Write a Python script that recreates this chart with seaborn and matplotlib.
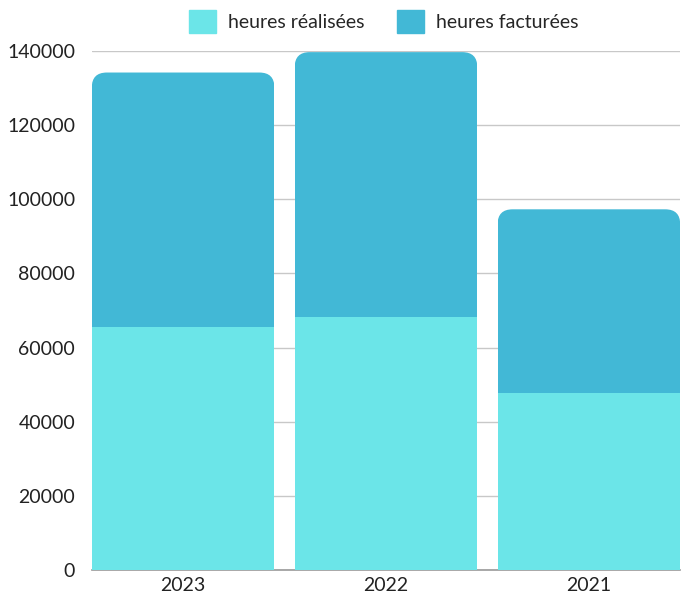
import pandas as pd
import matplotlib.pyplot as plt
import seaborn as sns
from matplotlib.patches import FancyBboxPatch, Rectangle

years = ["2023", "2022", "2021"]
heures_realisees = [65600, 68300, 47800]
heures_facturees = [68600, 71400, 49500]
labels = ["heures réalisées", "heures facturées"]
colors = ["#6be5e8", "#42b8d6"]

df = pd.DataFrame({"annee": years,
                   "realisees": heures_realisees,
                   "total": [r + f for r, f in zip(heures_realisees, heures_facturees)]})

sns.set_style("white")
plt.rcParams['font.family'] = ['Lato', 'DejaVu Sans']

fig = plt.figure(figsize=(6.85, 6.01), dpi=100)
ax = fig.add_axes([0.134, 0.0516, 0.859, 0.8635])

sns.barplot(data=df, x="annee", y="total", color=colors[1], width=0.9,
            saturation=1, linewidth=0, ax=ax, zorder=2)
n = len(ax.patches)
sns.barplot(data=df, x="annee", y="realisees", color=colors[0], width=0.9,
            saturation=1, linewidth=0, ax=ax, zorder=3)

ax.set_xlim(-0.45, len(years) - 0.55)
ax.set_ylim(0, 140000)

# rounded top corners for the total bars, clipped above the lower segment
px_x = 0.859 * 685 / (ax.get_xlim()[1] - ax.get_xlim()[0])
px_y = 0.8635 * 601 / 140000
radius = 15 / px_x
for p, low in zip(list(ax.patches[:n]), ax.patches[n:2 * n]):
    x, w, h = p.get_x(), p.get_width(), p.get_height()
    base = low.get_height()
    p.set_visible(False)
    rb = FancyBboxPatch((x, 0), w, h, boxstyle=f"round,pad=0,rounding_size={radius}",
                        mutation_aspect=px_x / px_y, facecolor=colors[1],
                        edgecolor="none", linewidth=0, zorder=2)
    ax.add_patch(rb)
    rb.set_clip_path(Rectangle((x, base), w, h, transform=ax.transData))

ax.set_yticks(range(0, 140001, 20000))
ax.yaxis.grid(True, color="#c8c8c8", linewidth=1, zorder=0)
ax.set_axisbelow(True)
for s in ["top", "right", "left"]:
    ax.spines[s].set_visible(False)
ax.spines["bottom"].set_color("#999999")
ax.spines["bottom"].set_linewidth(1.2)
ax.spines["bottom"].set_zorder(1)
ax.tick_params(axis="both", length=0, labelsize=14, colors="#222222")
ax.tick_params(axis="y", pad=12)
ax.tick_params(axis="x", pad=5)
ax.set_xlabel("")
ax.set_ylabel("")

handles = [plt.Rectangle((0, 0), 1, 1, color=c) for c in colors]
fig.legend(handles, labels, loc="upper center", bbox_to_anchor=(0.56, 1.012),
           ncol=2, frameon=False, fontsize=14, handlelength=1.4, handleheight=1.4,
           columnspacing=1.7, handletextpad=0.6)

fig.savefig("out.png", dpi=100)
